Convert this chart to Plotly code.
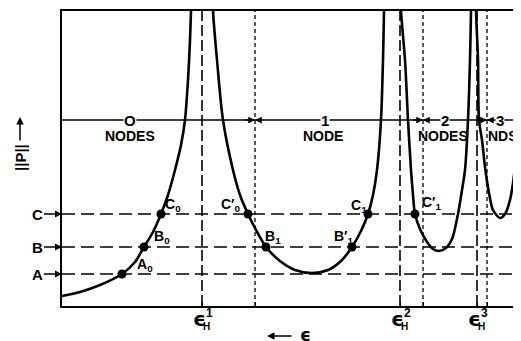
import plotly.graph_objects as go

# ---- data (x: energy axis units, y: ||P|| units) ----
curve0_x = [0, 18, 38, 60, 73, 82, 91, 99, 106, 113, 119, 123, 126, 128, 129, 129.5]
curve0_y = [10, 14, 21, 32, 44, 59, 74, 92, 111, 136, 161, 186, 226, 266, 295, 310]

curve1_x = [150.5, 151, 155, 161, 171, 178, 186, 194, 204, 218, 233, 250, 266, 279, 290, 299, 306, 311, 315, 319, 321, 322, 322.3]
curve1_y = [310, 295, 246, 186, 136, 111, 92, 76, 59, 45, 36, 33, 36, 45, 59, 75, 92, 111, 136, 186, 246, 295, 310]

curve2_x = [338.7, 339, 343, 346, 349, 351, 353, 358, 365, 371, 377, 384, 390, 396, 400, 403, 406, 408, 409, 409.2]
curve2_y = [310, 295, 246, 186, 136, 111, 92, 77, 64, 57, 55, 58, 67, 92, 116, 136, 186, 246, 295, 310]

curve3_x = [413.8, 414, 416, 417, 420, 423, 427, 431, 438, 443, 448, 453, 455, 458, 460]
curve3_y = [310, 295, 246, 186, 166, 139, 113, 96, 88, 92, 106, 139, 166, 193, 216]

level_names = ["C", "B", "A"]
level_values = [92, 59, 32]

eH_positions = [140, 338, 415]          # epsilon_H^1, ^2, ^3 (long dash)
boundary_positions = [193, 361, 425]    # region boundaries (short dash)
node_line_y = 186

point_names = ["A<sub>0</sub>", "B<sub>0</sub>", "C<sub>0</sub>", "C′<sub>0</sub>",
               "B<sub>1</sub>", "B′<sub>1</sub>", "C<sub>1</sub>", "C′<sub>1</sub>"]
point_x = [60, 82, 99, 186, 204, 290, 306, 353]
point_y = [32, 59, 92, 92, 59, 59, 92, 92]
label_x = [83, 100, 111, 168, 211, 281, 297, 369]
label_y = [41, 69, 101, 101, 69, 69, 100, 103]

region_nums = ["O", "1", "2", "3"]
region_words = ["NODES", "NODE", "NODES", "NDS"]
region_x = [68, 263, 383, 438]
region_word_x = [68, 261, 381, 441]

XMAX, YMAX = 459, 295
FONT = "Liberation Sans"
EPS = "\u03f5"

# page body has an 8px margin; compensate so plot area lands where the reference has it
OFF = 8
PLOT_W, PLOT_H = 459, 295
L, T, B = 62 - OFF, 11 - OFF, 35

def px_to_paper_y(py):
    return (306 - py) / PLOT_H

def px_to_paper_x(px):
    return (px - 62) / PLOT_W

C = dict(xanchor="center", yanchor="middle")

fig = go.Figure()

for v in level_values:
    fig.add_trace(go.Scatter(x=[0, XMAX], y=[v, v], mode="lines",
                             line=dict(color="black", width=1.6, dash="13px,6px"),
                             hoverinfo="skip", showlegend=False))
for v in eH_positions:
    fig.add_trace(go.Scatter(x=[v, v], y=[0, YMAX], mode="lines",
                             line=dict(color="black", width=1.6, dash="11px,4px"),
                             hoverinfo="skip", showlegend=False))
for v in boundary_positions:
    fig.add_trace(go.Scatter(x=[v, v], y=[0, YMAX], mode="lines",
                             line=dict(color="black", width=1.3, dash="4px,3px"),
                             hoverinfo="skip", showlegend=False))
fig.add_trace(go.Scatter(x=[0, XMAX], y=[node_line_y, node_line_y], mode="lines",
                         line=dict(color="black", width=1.5),
                         hoverinfo="skip", showlegend=False))

for cx, cy in [(curve0_x, curve0_y), (curve1_x, curve1_y), (curve2_x, curve2_y), (curve3_x, curve3_y)]:
    fig.add_trace(go.Scatter(x=cx, y=cy, mode="lines",
                             line=dict(color="black", width=2.6, shape="spline", smoothing=0.8),
                             hoverinfo="skip", showlegend=False))

fig.add_trace(go.Scatter(x=point_x, y=point_y, mode="markers",
                         marker=dict(color="black", size=9),
                         hoverinfo="skip", showlegend=False))

ann = []
tf = dict(family=FONT, size=14, color="black")
for name, lx, ly in zip(point_names, label_x, label_y):
    ann.append(dict(x=lx, y=ly, xref="x", yref="y", text="<b>" + name + "</b>",
                    showarrow=False, font=tf, **C))

for name, v in zip(level_names, level_values):
    ann.append(dict(x=0, y=v, xref="x", yref="y", text="<b>" + name + "</b>",
                    showarrow=True, ax=-25, ay=0, arrowhead=2, arrowsize=1,
                    arrowwidth=1.4, arrowcolor="black", standoff=0,
                    font=dict(family=FONT, size=15, color="black")))

for n, w, rx, wx in zip(region_nums, region_words, region_x, region_word_x):
    ann.append(dict(x=rx, y=node_line_y, xref="x", yref="y", text="<b>" + n + "</b>",
                    showarrow=False, bgcolor="white", borderpad=0,
                    font=dict(family=FONT, size=15, color="black"), **C))
    ann.append(dict(x=wx, y=node_line_y - 16, xref="x", yref="y", text="<b>" + w + "</b>",
                    showarrow=False, font=tf, **C))

for b in boundary_positions:
    for off in (-11, 9):
        ann.append(dict(x=b, y=node_line_y, xref="x", yref="y", text="",
                        showarrow=True, ax=off, ay=0, arrowhead=2, arrowsize=0.9,
                        arrowwidth=1.5, arrowcolor="black", standoff=0))

# bottom labels (below the plot area -> paper y)
for i, v in enumerate(eH_positions):
    ann.append(dict(x=v - 3, y=px_to_paper_y(319), xref="x", yref="paper", text="<b>" + EPS + "</b>",
                    showarrow=False, font=dict(family="DejaVu Sans", size=20, color="black"), **C))
    ann.append(dict(x=v + 4, y=px_to_paper_y(326), xref="x", yref="paper", text="<b>H</b>",
                    showarrow=False, font=dict(family=FONT, size=10, color="black"), **C))
    ann.append(dict(x=v + 7, y=px_to_paper_y(313), xref="x", yref="paper", text="<b>" + str(i + 1) + "</b>",
                    showarrow=False, font=dict(family=FONT, size=12, color="black"), **C))
ann.append(dict(x=456, y=px_to_paper_y(319), xref="x", yref="paper", text="<b>" + EPS + "</b>",
                showarrow=False, font=dict(family="DejaVu Sans", size=20, color="black"), **C))
ann.append(dict(x=205, y=px_to_paper_y(336), xref="x", yref="paper", text="",
                showarrow=True, ax=26, ay=0, arrowhead=2, arrowsize=1,
                arrowwidth=1.5, arrowcolor="black", standoff=0))
ann.append(dict(x=243, y=px_to_paper_y(335), xref="x", yref="paper", text="<b>" + EPS + "</b>",
                showarrow=False, font=dict(family="DejaVu Sans", size=17, color="black"), **C))

# y-axis title with arrow (left of plot area -> paper x)
ann.append(dict(x=px_to_paper_x(20), y=148, xref="paper", yref="y", text="<b>||P||</b>", textangle=-90,
                showarrow=False, font=dict(family=FONT, size=15, color="black"), **C))
ann.append(dict(x=px_to_paper_x(20), y=189, xref="paper", yref="y", text="",
                showarrow=True, ax=0, ay=25, arrowhead=2, arrowsize=1,
                arrowwidth=1.5, arrowcolor="black", standoff=0))

fig.update_layout(
    width=L + PLOT_W, height=T + PLOT_H + B,
    margin=dict(l=L, r=0, t=T, b=B),
    plot_bgcolor="white", paper_bgcolor="white",
    annotations=ann,
    xaxis=dict(range=[0, XMAX], showgrid=False, zeroline=False, showline=True,
               linecolor="black", linewidth=2, mirror=True,
               tickvals=eH_positions + boundary_positions, ticks="inside",
               ticklen=4, tickwidth=1.3, tickcolor="black", showticklabels=False,
               automargin=False),
    yaxis=dict(range=[0, YMAX], showgrid=False, zeroline=False, showline=True,
               linecolor="black", linewidth=2, mirror=False, showticklabels=False,
               ticks="", automargin=False),
)

fig.write_html("out.html")
